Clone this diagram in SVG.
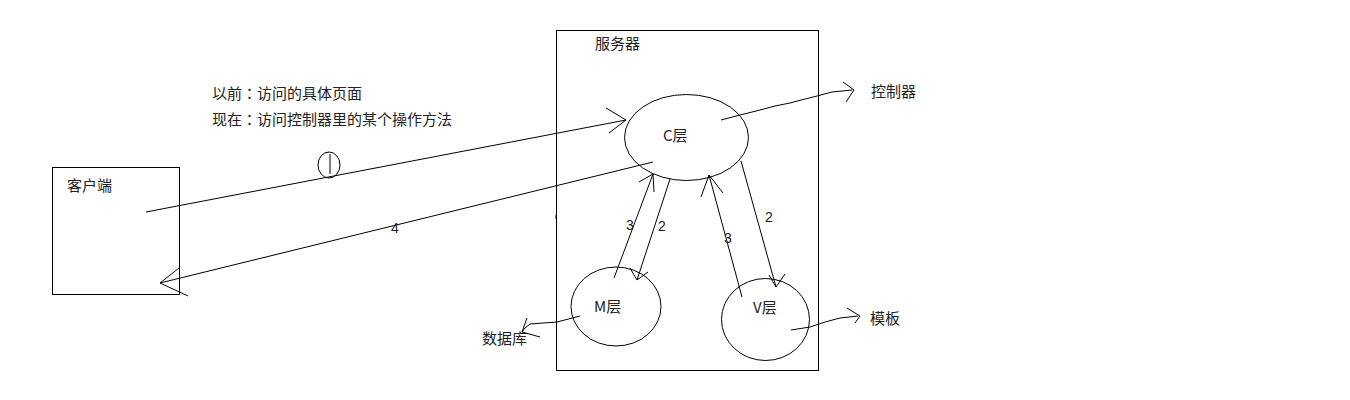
<svg xmlns="http://www.w3.org/2000/svg" width="1350" height="400" viewBox="0 0 1350 400">
<style>
.s{fill:none;stroke:#000;stroke-width:1}
.t{font-family:"Noto Sans CJK SC","Liberation Sans",sans-serif;font-size:15px;fill:#222}
.p{font-family:"Noto Sans CJK TC","Noto Sans CJK SC",sans-serif;font-size:15px;fill:#222}
.n{font-family:"Liberation Sans","Noto Sans CJK SC",sans-serif;font-size:14px;fill:#222}
</style>
<rect width="1350" height="400" fill="#fff"/>
<g id="notes">
<text class="p" x="212" y="99">以前：访问的具体页面</text>
<text class="p" x="212" y="125">现在：访问控制器里的某个操作方法</text>
</g>
<g id="client">
<rect class="s" x="52.5" y="167.5" width="127" height="127"/>
<text class="t" x="67" y="191">客户端</text>
</g>
<g id="server">
<rect class="s" x="556.5" y="30.5" width="262" height="340"/>
<text class="t" x="595" y="49">服务器</text>
</g>
<g id="c-layer">
<ellipse class="s" cx="686.5" cy="137.5" rx="62" ry="43"/>
<text class="t" x="663" y="141">C层</text>
</g>
<g id="m-layer">
<ellipse class="s" cx="616" cy="306.5" rx="45" ry="39.5"/>
<text class="t" x="594" y="312">M层</text>
</g>
<g id="v-layer">
<ellipse class="s" cx="765.5" cy="319.5" rx="44" ry="41"/>
<text class="t" x="753" y="313">V层</text>
</g>
<g id="controller">
<text class="t" x="871" y="97">控制器</text>
</g>
<g id="database">
<text class="t" x="482" y="344">数据库</text>
</g>
<g id="template">
<text class="t" x="870" y="324">模板</text>
</g>
<g id="connectors">
<polyline class="s" points="146,212 626,120"/>
<polyline class="s" points="606,108 626,120 609,133"/>
<ellipse class="s" cx="329" cy="165" rx="11" ry="13"/>
<line class="s" x1="330" y1="154" x2="330" y2="174"/>
<polyline class="s" points="653,162 160,283"/>
<polyline class="s" points="179,268 160,283 188,296"/>
<text class="n" x="391" y="233">4</text>
<polyline class="s" points="614,278 653,174"/>
<polyline class="s" points="639,182 653,174 654,192"/>
<text class="n" x="626" y="230">3</text>
<polyline class="s" points="670,179 637,280"/>
<polyline class="s" points="630,268 637,280 648,272"/>
<text class="n" x="658" y="231">2</text>
<polyline class="s" points="742,297 709,175"/>
<polyline class="s" points="701,197 709,175 723,193"/>
<text class="n" x="724" y="243">3</text>
<polyline class="s" points="741,161 776,287"/>
<polyline class="s" points="769,275 776,287 785,274"/>
<text class="n" x="765" y="222">2</text>
<polyline class="s" points="721,120 740,115 760,110 775,106 790,103 805,99 817,96 832,92 852,90"/>
<polyline class="s" points="843,82 854,90 846,102"/>
<polyline class="s" points="580,316 557,322 530,324 525,328 522,332"/>
<polyline class="s" points="527,318 522,332 540,337"/>
<polyline class="s" points="791,330 810,327 825,322 840,318 858,316"/>
<polyline class="s" points="847,308 860,316 855,323"/>
<line class="s" x1="556" y1="215" x2="556" y2="219"/>
</g>
</svg>
